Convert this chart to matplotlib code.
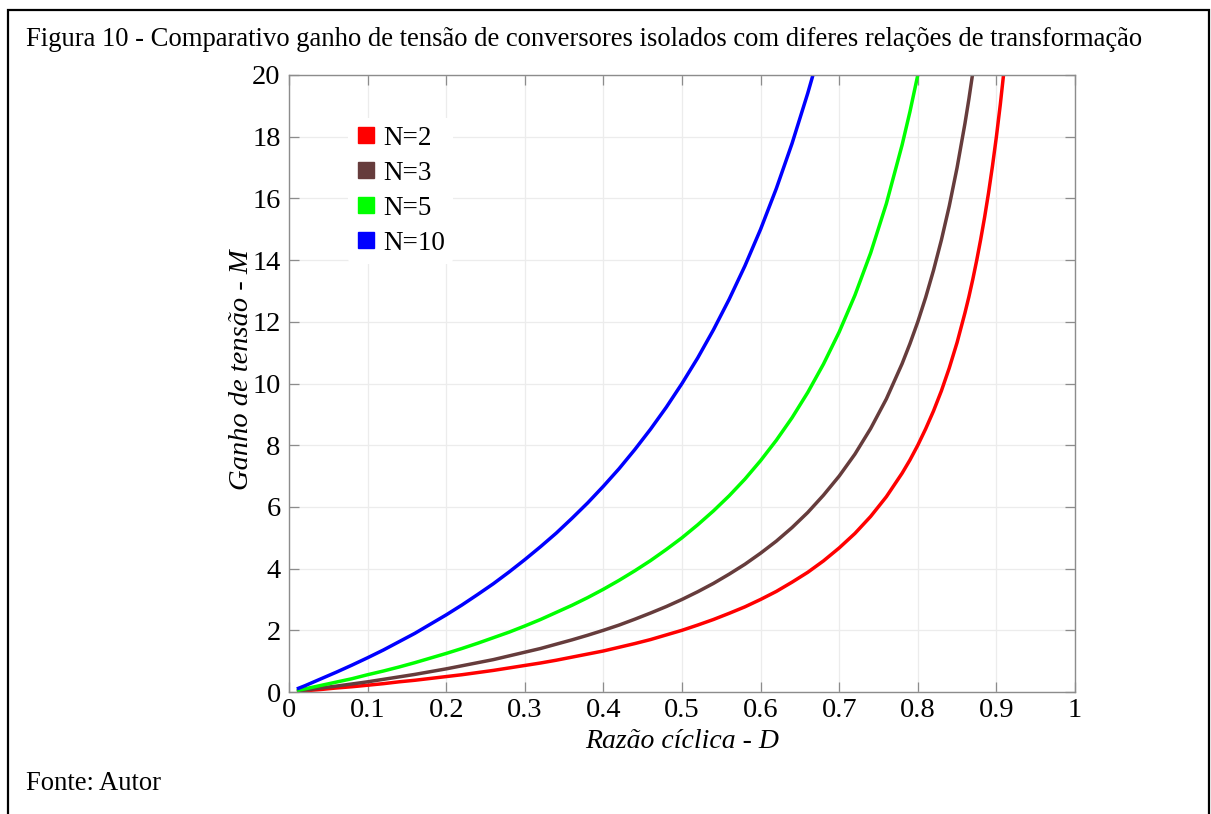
import matplotlib.pyplot as plt
from matplotlib.lines import Line2D
from matplotlib.patches import Rectangle

plt.rcParams['font.family'] = ['Liberation Serif', 'DejaVu Serif']

# Razão cíclica D e ganho M para cada relação de transformação N
d_n2 = [0.01, 0.02, 0.04, 0.06, 0.08, 0.10, 0.12, 0.14, 0.16, 0.18, 0.20, 0.22, 0.24, 0.26,
        0.28, 0.30, 0.32, 0.34, 0.36, 0.38, 0.40, 0.42, 0.44, 0.46, 0.48, 0.50, 0.52, 0.54,
        0.56, 0.58, 0.60, 0.62, 0.64, 0.66, 0.68, 0.70, 0.72, 0.74, 0.76, 0.78, 0.79, 0.80,
        0.81, 0.82, 0.83, 0.84, 0.85, 0.86, 0.865, 0.87, 0.875, 0.88, 0.885, 0.89, 0.895,
        0.90, 0.905, 0.91]
m_n2 = [0.02, 0.04, 0.08, 0.13, 0.17, 0.22, 0.27, 0.33, 0.38, 0.44, 0.50, 0.56, 0.63, 0.70,
        0.78, 0.86, 0.94, 1.03, 1.13, 1.23, 1.33, 1.45, 1.57, 1.70, 1.85, 2.00, 2.17, 2.35,
        2.55, 2.76, 3.00, 3.26, 3.56, 3.88, 4.25, 4.67, 5.14, 5.69, 6.33, 7.09, 7.52, 8.00,
        8.53, 9.11, 9.76, 10.50, 11.33, 12.29, 12.81, 13.38, 14.00, 14.67, 15.39, 16.18, 17.05,
        18.00, 19.05, 20.22]

d_n3 = [0.01, 0.02, 0.04, 0.06, 0.08, 0.10, 0.12, 0.14, 0.16, 0.18, 0.20, 0.22, 0.24, 0.26,
        0.28, 0.30, 0.32, 0.34, 0.36, 0.38, 0.40, 0.42, 0.44, 0.46, 0.48, 0.50, 0.52, 0.54,
        0.56, 0.58, 0.60, 0.62, 0.64, 0.66, 0.68, 0.70, 0.72, 0.74, 0.76, 0.78, 0.79, 0.80,
        0.81, 0.82, 0.83, 0.84, 0.85, 0.86, 0.865, 0.87]
m_n3 = [0.03, 0.06, 0.13, 0.19, 0.26, 0.33, 0.41, 0.49, 0.57, 0.66, 0.75, 0.85, 0.95, 1.05,
        1.17, 1.29, 1.41, 1.55, 1.69, 1.84, 2.00, 2.17, 2.36, 2.56, 2.77, 3.00, 3.25, 3.52,
        3.82, 4.14, 4.50, 4.89, 5.33, 5.82, 6.38, 7.00, 7.71, 8.54, 9.50, 10.64, 11.29, 12.00,
        12.79, 13.67, 14.65, 15.75, 17.00, 18.43, 19.22, 20.08]

d_n5 = [0.01, 0.02, 0.04, 0.06, 0.08, 0.10, 0.12, 0.14, 0.16, 0.18, 0.20, 0.22, 0.24, 0.26,
        0.28, 0.30, 0.32, 0.34, 0.36, 0.38, 0.40, 0.42, 0.44, 0.46, 0.48, 0.50, 0.52, 0.54,
        0.56, 0.58, 0.60, 0.62, 0.64, 0.66, 0.68, 0.70, 0.72, 0.74, 0.76, 0.78, 0.79, 0.80]
m_n5 = [0.05, 0.10, 0.21, 0.32, 0.43, 0.56, 0.68, 0.81, 0.95, 1.10, 1.25, 1.41, 1.58, 1.76,
        1.94, 2.14, 2.35, 2.58, 2.81, 3.06, 3.33, 3.62, 3.93, 4.26, 4.62, 5.00, 5.42, 5.87,
        6.36, 6.90, 7.50, 8.16, 8.89, 9.71, 10.63, 11.67, 12.86, 14.23, 15.83, 17.73, 18.81, 20.00]

d_n10 = [0.01, 0.02, 0.04, 0.06, 0.08, 0.10, 0.12, 0.14, 0.16, 0.18, 0.20, 0.22, 0.24, 0.26,
         0.28, 0.30, 0.32, 0.34, 0.36, 0.38, 0.40, 0.42, 0.44, 0.46, 0.48, 0.50, 0.52, 0.54,
         0.56, 0.58, 0.60, 0.62, 0.64, 0.66, 0.67]
m_n10 = [0.10, 0.20, 0.42, 0.64, 0.87, 1.11, 1.36, 1.63, 1.90, 2.20, 2.50, 2.82, 3.16, 3.51,
         3.89, 4.29, 4.71, 5.15, 5.63, 6.13, 6.67, 7.24, 7.86, 8.52, 9.23, 10.00, 10.83, 11.74,
         12.73, 13.81, 15.00, 16.32, 17.78, 19.41, 20.30]

rotulos = ['N=2', 'N=3', 'N=5', 'N=10']
cores = ['#ff0000', '#663c3c', '#00ff00', '#0000ff']
series = [(d_n2, m_n2), (d_n3, m_n3), (d_n5, m_n5), (d_n10, m_n10)]

x_ticks = [0, 0.1, 0.2, 0.3, 0.4, 0.5, 0.6, 0.7, 0.8, 0.9, 1]
x_ticklabels = ['0', '0.1', '0.2', '0.3', '0.4', '0.5', '0.6', '0.7', '0.8', '0.9', '1']
y_ticks = [0, 2, 4, 6, 8, 10, 12, 14, 16, 18, 20]

fig = plt.figure(figsize=(12.11, 8.14), dpi=100)
ax = fig.add_axes([289 / 1211, 1 - 692 / 814, 786 / 1211, 617 / 814])

for (d, m), cor in zip(series, cores):
    ax.plot(d, m, color=cor, linewidth=2.5, solid_capstyle='butt', solid_joinstyle='round')

ax.set_xlim(0, 1)
ax.set_ylim(0, 20)
ax.set_xticks(x_ticks)
ax.set_xticklabels(x_ticklabels)
ax.set_yticks(y_ticks)
ax.grid(True, color='#ececec', linewidth=0.9)
ax.set_axisbelow(True)
ax.tick_params(direction='in', length=7, width=0.9, color='#8c8c8c',
               top=True, right=True, labelsize=20.5, pad=4)
ax.tick_params(axis='y', pad=6)
for s in ax.spines.values():
    s.set_color('#8c8c8c')
    s.set_linewidth(1.0)

ax.set_xlabel('Razão cíclica - D', fontsize=20, style='italic', labelpad=5)
ax.set_ylabel('Ganho de tensão - M', fontsize=20.5, style='italic')
ax.yaxis.set_label_coords(-0.045, 0.522)

handles = [Line2D([], [], marker='s', linestyle='', markersize=12, color=c) for c in cores]
leg = ax.legend(handles, rotulos, loc='upper left', bbox_to_anchor=(0.058, 0.953),
                fontsize=19.5, frameon=True, framealpha=1, edgecolor='none',
                handlelength=0.75, handletextpad=0.25, labelspacing=0.37, borderpad=0.3)
leg.get_frame().set_linewidth(0)

fig.text(26 / 1211, 1 - 40 / 814,
         'Figura 10 - Comparativo ganho de tensão de conversores isolados com diferes relações de transformação',
         fontsize=19.2, va='center', ha='left')
fig.text(26 / 1211, 1 - 783 / 814, 'Fonte: Autor', fontsize=19.2, va='center', ha='left')

fig.add_artist(Rectangle((8 / 1211, -0.05), 1201 / 1211, 1.05 - 10 / 814,
                         transform=fig.transFigure, fill=False, edgecolor='black',
                         linewidth=1.6, clip_on=False))

fig.savefig('out.png', dpi=100)
